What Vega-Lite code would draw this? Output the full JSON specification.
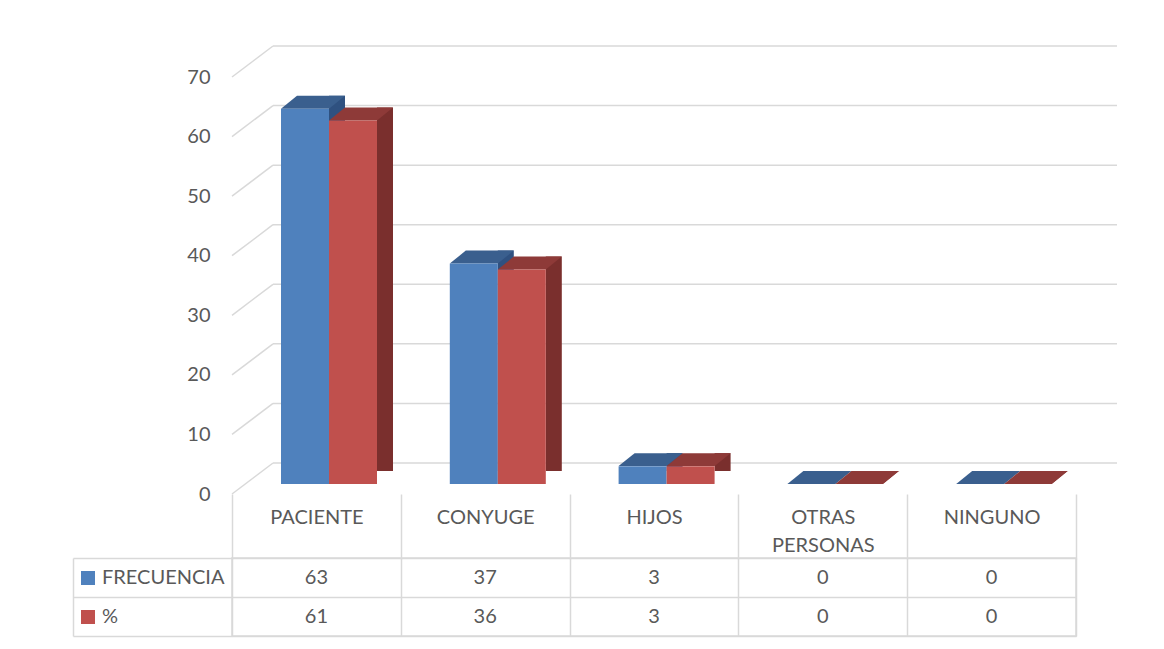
{
  "$schema": "https://vega.github.io/schema/vega-lite/v6.json",
  "autosize": {"type": "none"},
  "padding": {"left": 232, "top": 77, "right": 932, "bottom": 572},
  "background": "white",
  "bounds": "flush",
  "spacing": 64,
  "config": {"font": "Lato", "text": {"font": "Lato"}},
  "datasets": {
    "d": [
      {"cat": "PACIENTE", "serie": "FRECUENCIA", "val": 63},
      {"cat": "PACIENTE", "serie": "%", "val": 61},
      {"cat": "CONYUGE", "serie": "FRECUENCIA", "val": 37},
      {"cat": "CONYUGE", "serie": "%", "val": 36},
      {"cat": "HIJOS", "serie": "FRECUENCIA", "val": 3},
      {"cat": "HIJOS", "serie": "%", "val": 3},
      {"cat": "OTRAS PERSONAS", "serie": "FRECUENCIA", "val": 0},
      {"cat": "OTRAS PERSONAS", "serie": "%", "val": 0},
      {"cat": "NINGUNO", "serie": "FRECUENCIA", "val": 0},
      {"cat": "NINGUNO", "serie": "%", "val": 0}
    ],
    "grid": [{"v": 0}, {"v": 10}, {"v": 20}, {"v": 30}, {"v": 40}, {"v": 50}, {"v": 60}, {"v": 70}]
  },
  "vconcat": [
    {
      "width": 844,
      "height": 417,
      "view": {"stroke": null},
      "layer": [
        {
          "data": {"name": "grid"},
          "layer": [
            {
              "mark": {"type": "rule", "color": "#D9D9D9", "strokeWidth": 1.5, "xOffset": 41, "x2Offset": 125.4, "yOffset": -31, "y2Offset": -31},
              "encoding": {
                "x": {"datum": "PACIENTE", "type": "nominal", "bandPosition": 0},
                "x2": {"datum": "NINGUNO"},
                "y": {"field": "v", "type": "quantitative", "scale": {"domain": [0, 70], "nice": false},
                  "axis": {"values": [0, 10, 20, 30, 40, 50, 60, 70], "domain": false, "ticks": false, "grid": false, "labelPadding": 22, "labelFontSize": 20, "labelFont": "Lato", "labelColor": "#595959", "title": null}},
                "y2": {"field": "v"}
              }
            },
            {
              "mark": {"type": "rule", "color": "#D9D9D9", "strokeWidth": 1.5, "x2Offset": -43.4, "y2Offset": -31},
              "encoding": {
                "x": {"datum": "PACIENTE", "type": "nominal", "bandPosition": 0},
                "x2": {"datum": "PACIENTE"},
                "y": {"field": "v", "type": "quantitative"},
                "y2": {"field": "v"}
              }
            }
          ]
        },
        {
          "data": {"name": "d"},
          "encoding": {
            "x": {"field": "cat", "type": "nominal",
              "scale": {"domain": ["PACIENTE", "CONYUGE", "HIJOS", "OTRAS PERSONAS", "NINGUNO"], "paddingInner": 0, "paddingOuter": 0},
              "axis": {"title": null, "domain": false, "grid": false, "ticks": true, "tickBand": "extent", "tickSize": 65, "tickColor": "#D9D9D9", "tickWidth": 1.5,
                "labelAngle": 0, "labelAlign": "center", "labelBaseline": "top", "labelPadding": -52, "labelFontSize": 20, "labelFont": "Lato", "labelColor": "#595959", "labelLineHeight": 28,
                "labelExpr": "datum.value == 'OTRAS PERSONAS' ? ['OTRAS', 'PERSONAS'] : datum.value"}},
            "y": {"field": "val", "type": "quantitative", "scale": {"domain": [0, 70], "nice": false},
              "axis": {"values": [0, 10, 20, 30, 40, 50, 60, 70], "domain": false, "ticks": false, "grid": false, "labelPadding": 22, "labelFontSize": 20, "labelFont": "Lato", "labelColor": "#595959", "title": null}}
          },
          "layer": [
            {
              "transform": [{"filter": "datum.serie == 'FRECUENCIA'"}],
              "mark": {"type": "bar", "width": 16, "xOffset": 20.6, "yOffset": -23, "y2Offset": -10, "color": "#2F5180"}
            },
            {
              "transform": [{"filter": "datum.serie == 'FRECUENCIA'"}],
              "mark": {"type": "point", "shape": "M -1 0.203 L 0.5 0.203 L 1 -0.203 L -0.5 -0.203 Z", "size": 4096, "filled": true, "opacity": 1, "strokeWidth": 0, "color": "#3A5F8E", "xOffset": -3.4, "yOffset": -16.5}
            },
            {
              "transform": [{"filter": "datum.serie == 'FRECUENCIA'"}],
              "mark": {"type": "bar", "width": 48, "xOffset": -11.4, "yOffset": -10, "y2Offset": -10},
              "encoding": {
                "color": {"field": "serie", "type": "nominal", "scale": {"domain": ["FRECUENCIA", "%"], "range": ["#4F81BD", "#C0504D"]},
                  "legend": {"orient": "none", "legendX": -154, "legendY": 491, "title": null, "symbolType": "square", "symbolSize": 196, "symbolStrokeWidth": 0, "labelFontSize": 20, "labelFont": "Lato", "labelColor": "#595959", "rowPadding": 19, "labelOffset": 4, "padding": 0}}
              }
            },
            {
              "transform": [{"filter": "datum.serie == '%'"}],
              "mark": {"type": "bar", "width": 16, "xOffset": 68.6, "yOffset": -23, "y2Offset": -10, "color": "#7A2F2D"}
            },
            {
              "transform": [{"filter": "datum.serie == '%'"}],
              "mark": {"type": "point", "shape": "M -1 0.203 L 0.5 0.203 L 1 -0.203 L -0.5 -0.203 Z", "size": 4096, "filled": true, "opacity": 1, "strokeWidth": 0, "color": "#8E3A38", "xOffset": 44.6, "yOffset": -16.5}
            },
            {
              "transform": [{"filter": "datum.serie == '%'"}],
              "mark": {"type": "bar", "width": 48, "xOffset": 36.6, "yOffset": -10, "y2Offset": -10},
              "encoding": {
                "color": {"field": "serie", "type": "nominal"}
              }
            },
            {
              "transform": [{"filter": "datum.serie == '%'"}],
              "mark": {"type": "point", "shape": "M -1 0.8125 L 1 0.8125 L 1 -0.8125 Z", "size": 256, "filled": true, "opacity": 1, "strokeWidth": 0, "color": "white", "xOffset": 68.6, "yOffset": -16.5},
              "encoding": {"y": {"datum": 0, "type": "quantitative"}}
            }
          ]
        }
      ]
    },
    {
      "width": 844,
      "height": 78,
      "view": {"stroke": "#D9D9D9", "strokeWidth": 1.5},
      "data": {"name": "d"},
      "mark": {"type": "text", "fontSize": 20, "font": "Lato", "color": "#595959"},
      "encoding": {
        "x": {"field": "cat", "type": "nominal",
          "scale": {"domain": ["PACIENTE", "CONYUGE", "HIJOS", "OTRAS PERSONAS", "NINGUNO"], "paddingInner": 0, "paddingOuter": 0},
          "axis": {"title": null, "labels": false, "ticks": false, "domain": false, "grid": true, "tickBand": "extent", "gridColor": "#D9D9D9", "gridWidth": 1.5}},
        "y": {"field": "serie", "type": "nominal",
          "scale": {"domain": ["FRECUENCIA", "%"], "paddingInner": 0, "paddingOuter": 0},
          "axis": {"title": null, "labels": false, "grid": true, "tickBand": "extent", "gridColor": "#D9D9D9", "gridWidth": 1.5, "offset": 159, "domain": true, "domainColor": "#D9D9D9", "domainWidth": 1.5, "ticks": true, "tickSize": -159, "tickColor": "#D9D9D9", "tickWidth": 1.5}},
        "text": {"field": "val", "type": "quantitative"}
      }
    }
  ]
}
